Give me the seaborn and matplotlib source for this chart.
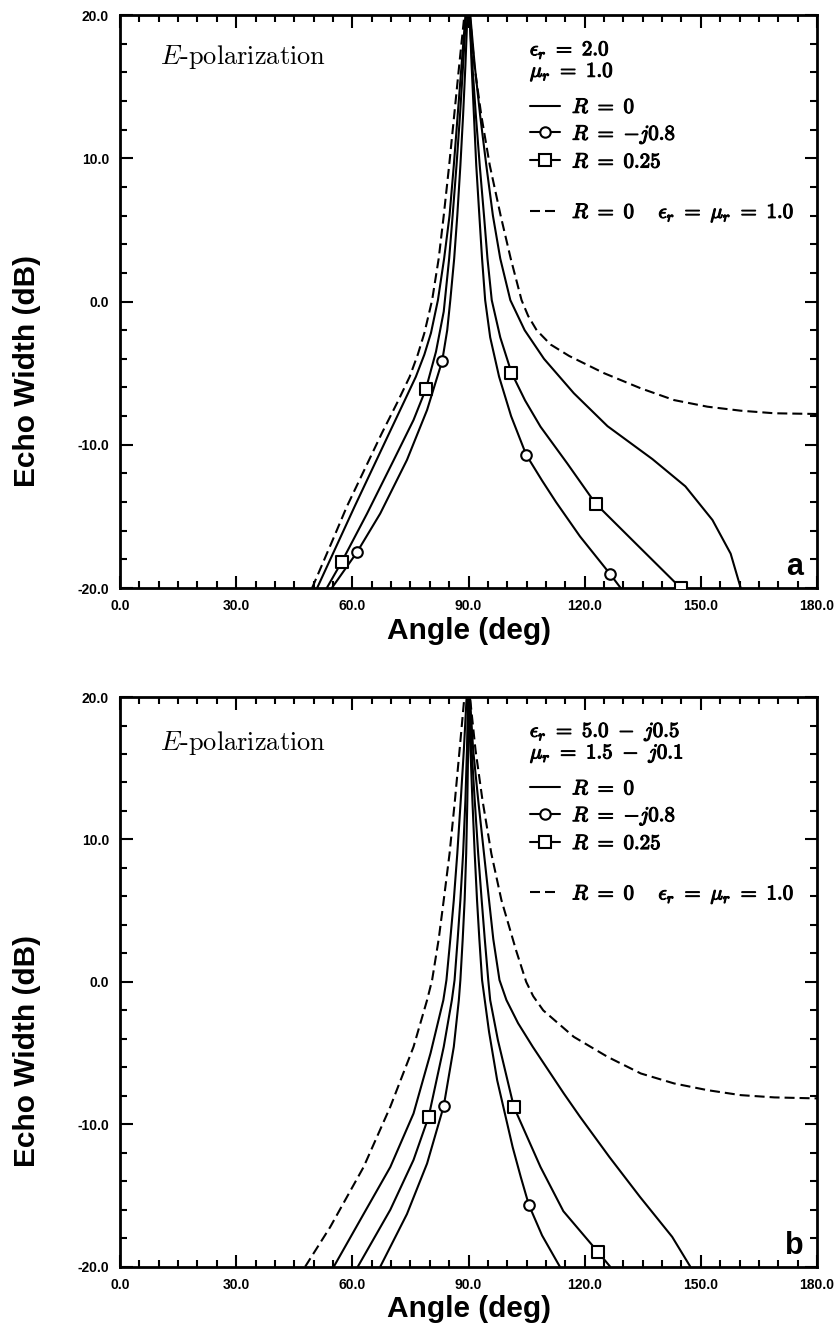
import numpy as np
import pandas as pd
import matplotlib
matplotlib.use("Agg")
import matplotlib.pyplot as plt
import matplotlib.patheffects as pe
from matplotlib.lines import Line2D
from matplotlib.ticker import MultipleLocator, FormatStrFormatter
import seaborn as sns

# ---------------- data : panel a (eps_r = 2.0, mu_r = 1.0) ----------------
a_r0_x = [50.9, 60.6, 69.5, 73.0, 76.4, 78.6, 80.3, 82.1, 83.7, 85.1, 86.2, 87.2, 88.2, 89.8,
          91.6, 93.0, 94.6, 96.3, 98.2, 100.8, 104.5, 109.5, 117.2, 125.9, 137.5, 146.0,
          153.0, 157.7, 160.3]
a_r0_y = [-20.0, -14.3, -9.2, -7.2, -5.25, -3.7, -2.2, 0.1, 3.0, 6.0, 9.5, 13.0, 16.5, 22.0,
          16.5, 13.0, 9.5, 6.0, 3.0, 0.1, -2.0, -4.0, -6.4, -8.7, -11.0, -12.9,
          -15.25, -17.6, -20.0]

a_circ_x = [54.7, 61.2, 67.2, 74.1, 79.3, 83.2, 84.5, 85.3, 86.3, 87.1, 87.9, 88.6, 89.2, 90.0,
            90.8, 91.4, 92.0, 92.8, 93.5, 94.3, 95.6, 97.9, 101.0, 104.9, 109.0, 112.6, 118.8,
            126.5, 129.3]
a_circ_y = [-20.0, -17.5, -14.8, -11.06, -7.57, -4.15, -2.0, 0.1, 3.0, 6.0, 9.5, 13.0, 16.5, 22.0,
            16.5, 13.0, 9.5, 6.0, 3.0, 0.1, -2.5, -5.25, -8.0, -10.7, -12.5, -14.0, -16.4,
            -19.0, -20.0]

a_sq_x = [53.4, 57.2, 63.8, 70.7, 75.8, 79.0, 81.6, 83.6, 85.0, 85.9, 86.9, 87.8, 88.6, 89.8,
          91.0, 91.9, 92.9, 94.0, 94.9, 96.0, 98.2, 101.1, 104.6, 108.6, 115.5, 122.8, 133.6, 144.8]
a_sq_y = [-20.0, -18.2, -14.8, -11.06, -8.27, -6.1, -3.5, -0.7, 3.0, 6.0, 9.5, 13.0, 16.5, 22.0,
          16.5, 13.0, 9.5, 6.0, 3.0, 0.1, -2.5, -4.97, -6.9, -8.74, -11.3, -14.1, -17.0, -20.0]

a_fs_x = [49.6, 55.0, 58.6, 67.6, 71.7, 74.8, 76.9, 78.6, 80.6, 82.3, 83.6, 85.0, 86.3, 87.6, 89.7,
          91.5, 93.3, 95.5, 98.3, 100.9, 103.7, 105.4, 107.6, 111.2, 116.0, 125.0, 134.5,
          143.1, 151.7, 160.3, 169.0, 180.0]
a_fs_y = [-20.0, -16.6, -14.3, -9.2, -7.0, -5.25, -3.7, -2.2, 0.1, 3.0, 6.0, 9.5, 13.0, 16.5, 22.0,
          16.5, 13.0, 9.5, 6.0, 3.0, 0.1, -1.0, -2.0, -3.0, -3.8, -5.0, -6.06,
          -6.88, -7.34, -7.62, -7.8, -7.85]

a_circ_mark_x = [61.2, 83.2, 104.9, 126.5]
a_circ_mark_y = [-17.5, -4.15, -10.7, -19.0]
a_sq_mark_x = [57.2, 79.0, 101.1, 122.8, 144.8]
a_sq_mark_y = [-18.2, -6.1, -4.97, -14.1, -20.0]

# ---------------- data : panel b (eps_r = 5.0 - j0.5, mu_r = 1.5 - j0.1) ----------------
b_r0_x = [55.2, 62.9, 69.8, 75.8, 80.2, 83.5, 84.3, 85.3, 86.2, 87.1, 88.0, 88.8, 89.9,
          91.2, 92.5, 94.0, 95.3, 96.4, 98.0, 99.8, 102.8, 106.6, 114.6, 118.8, 126.4, 134.3,
          142.6, 147.3]
b_r0_y = [-20.0, -16.3, -13.0, -9.24, -5.0, -1.28, 0.13, 3.0, 5.74, 9.0, 12.77, 16.3, 22.0,
          16.3, 12.77, 9.0, 5.74, 3.0, 0.13, -1.28, -2.9, -4.56, -7.83, -9.47, -12.3, -15.1,
          -17.9, -20.0]

b_circ_x = [67.2, 74.1, 79.3, 83.6, 86.2, 87.5, 87.9, 88.5, 89.0, 89.4, 89.7, 89.9, 90.1,
            90.5, 91.0, 91.6, 92.2, 92.8, 93.5, 95.3, 97.4, 101.4, 103.5, 105.6, 109.0, 113.6]
b_circ_y = [-20.0, -16.3, -12.75, -8.72, -4.56, -1.28, 0.13, 3.0, 5.74, 9.0, 12.77, 16.3, 22.0,
            16.3, 12.77, 9.0, 5.74, 3.0, 0.13, -3.5, -6.9, -11.6, -13.7, -15.67, -17.8, -20.0]

b_sq_x = [61.4, 69.8, 75.8, 79.7, 83.6, 85.7, 86.4, 87.2, 87.9, 88.6, 89.2, 89.6, 90.0,
          90.8, 91.6, 92.5, 93.4, 94.2, 95.1, 95.6, 97.6, 101.7, 108.6, 114.5, 123.4, 126.6]
b_sq_y = [-20.0, -16.0, -12.5, -9.47, -4.56, -1.28, 0.13, 3.0, 5.74, 9.0, 12.77, 16.3, 22.0,
          16.3, 12.77, 9.0, 5.74, 3.0, 0.13, -1.28, -4.1, -8.77, -13.0, -16.1, -18.95, -20.0]

b_fs_x = [47.8, 54.3, 62.9, 69.8, 75.8, 79.3, 80.6, 82.3, 83.6, 85.1, 86.5, 87.7, 89.6,
          91.8, 93.6, 95.9, 98.5, 102.3, 104.9, 106.7, 109.3, 117.2, 125.9, 134.5, 143.1, 151.7,
          160.3, 169.0, 180.0]
b_fs_y = [-20.0, -17.2, -13.0, -8.77, -4.56, -1.28, 0.13, 3.0, 5.74, 9.0, 12.77, 16.3, 22.0,
          16.3, 12.77, 9.0, 5.74, 2.2, 0.0, -1.0, -2.0, -3.86, -5.26, -6.43, -7.13, -7.6,
          -7.95, -8.11, -8.18]

b_circ_mark_x = [83.6, 105.6]
b_circ_mark_y = [-8.72, -15.67]
b_sq_mark_x = [79.7, 101.7, 123.4]
b_sq_mark_y = [-9.47, -8.77, -18.95]

x_ticks = [0.0, 30.0, 60.0, 90.0, 120.0, 150.0, 180.0]
y_ticks = [-20.0, -10.0, 0.0, 10.0, 20.0]

legend_labels = [r"$R\ =\ 0$", r"$R\ =\ {-}j0.8$", r"$R\ =\ 0.25$", " ",
                 r"$R\ =\ 0\quad\ \epsilon_r\ =\ \mu_r\ =\ 1.0$"]
header_a = [r"$\epsilon_r\ =\ 2.0$", r"$\mu_r\ =\ 1.0$"]
header_b = [r"$\epsilon_r\ =\ 5.0\ -\ j0.5$", r"$\mu_r\ =\ 1.5\ -\ j0.1$"]

# ---------------- style ----------------
sns.set_style("ticks")
plt.rcParams['font.family'] = ['Liberation Sans', 'DejaVu Sans']
plt.rcParams['mathtext.fontset'] = 'cm'
plt.rcParams['axes.unicode_minus'] = False
for k in ['axes.edgecolor', 'xtick.color', 'ytick.color', 'text.color', 'axes.labelcolor']:
    plt.rcParams[k] = 'black'

fig = plt.figure(figsize=(8.37, 13.34), dpi=100)
ax_a = fig.add_axes([0.1434, 0.5592, 0.8327, 0.4295])
ax_b = fig.add_axes([0.1434, 0.0504, 0.8327, 0.4271])

LW = 1.5
DASH = (4.8, 2.4)
BOLD = [pe.withStroke(linewidth=0.8, foreground='black')]
LEG_FS = 15


def draw_panel(ax, r0, circ, sq, fs, cm, sm, header, letter, pol_y):
    for (xs, ys), dashed in [(r0, False), (circ, False), (sq, False), (fs, True)]:
        df = pd.DataFrame({"angle": xs, "ew": ys})
        sns.lineplot(data=df, x="angle", y="ew", ax=ax, sort=False, estimator=None,
                     color="black", lw=LW)
        if dashed:
            ax.lines[-1].set_dashes(DASH)
    sns.scatterplot(x=cm[0], y=cm[1], ax=ax, marker="o", s=58, facecolor="white",
                    edgecolor="black", linewidth=1.5, zorder=4)
    sns.scatterplot(x=sm[0], y=sm[1], ax=ax, marker="s", s=64, facecolor="white",
                    edgecolor="black", linewidth=1.5, zorder=4)

    ax.set_xlim(0, 180)
    ax.set_ylim(-20, 20)
    ax.set_xticks(x_ticks)
    ax.set_yticks(y_ticks)
    ax.xaxis.set_minor_locator(MultipleLocator(5))
    ax.yaxis.set_minor_locator(MultipleLocator(2))
    ax.xaxis.set_major_formatter(FormatStrFormatter('%.1f'))
    ax.yaxis.set_major_formatter(FormatStrFormatter('%.1f'))
    ax.tick_params(which='both', direction='in', top=True, right=True, width=1.5)
    ax.tick_params(which='major', length=9, pad=8)
    ax.tick_params(which='minor', length=5)
    for lab in ax.get_xticklabels() + ax.get_yticklabels():
        lab.set_fontweight('bold')
        lab.set_fontsize(10)
    for sp in ax.spines.values():
        sp.set_linewidth(2.0)
        sp.set_visible(True)

    ax.set_xlabel("Angle (deg)", fontsize=21.5, fontweight='bold', va='top')
    ax.set_ylabel("Echo Width (dB)", fontsize=21.5, fontweight='bold')
    ax.xaxis.set_label_coords(0.5, -0.05)
    ax.yaxis.set_label_coords(-0.113, 0.378)

    ax.text(0.057, pol_y, r"$E$-polarization", transform=ax.transAxes,
            fontsize=19, family=['cmr10', 'DejaVu Serif'], ha='left', va='center')
    ax.text(0.968, 0.036, letter, transform=ax.transAxes, fontsize=22,
            fontweight='bold', ha='center', va='center')

    for txt, yy in zip(header, [0.939, 0.901]):
        t = ax.text(0.588, yy, txt, transform=ax.transAxes, fontsize=LEG_FS,
                    ha='left', va='center')
        t.set_path_effects(BOLD)

    handles = [Line2D([], [], color='k', lw=LW),
               Line2D([], [], color='k', lw=LW, marker='o', ms=7.5, mfc='white', mec='k', mew=1.5),
               Line2D([], [], color='k', lw=LW, marker='s', ms=8, mfc='white', mec='k', mew=1.5),
               Line2D([], [], linestyle='none'),
               Line2D([], [], color='k', lw=LW, dashes=DASH)]
    leg = ax.legend(handles, legend_labels, loc='upper left',
                    bbox_to_anchor=(0.5768, 0.870), frameon=False, fontsize=LEG_FS,
                    handlelength=1.4, handletextpad=0.6,
                    labelspacing=0.33, borderaxespad=0)
    texts = leg.get_texts()
    for t in texts:
        t.set_path_effects(BOLD)
    texts[3].set_fontsize(6)


draw_panel(ax_a, (a_r0_x, a_r0_y), (a_circ_x, a_circ_y), (a_sq_x, a_sq_y), (a_fs_x, a_fs_y),
           (a_circ_mark_x, a_circ_mark_y), (a_sq_mark_x, a_sq_mark_y), header_a, "a", 0.927)
draw_panel(ax_b, (b_r0_x, b_r0_y), (b_circ_x, b_circ_y), (b_sq_x, b_sq_y), (b_fs_x, b_fs_y),
           (b_circ_mark_x, b_circ_mark_y), (b_sq_mark_x, b_sq_mark_y), header_b, "b", 0.919)

fig.savefig("out.png", dpi=100)
